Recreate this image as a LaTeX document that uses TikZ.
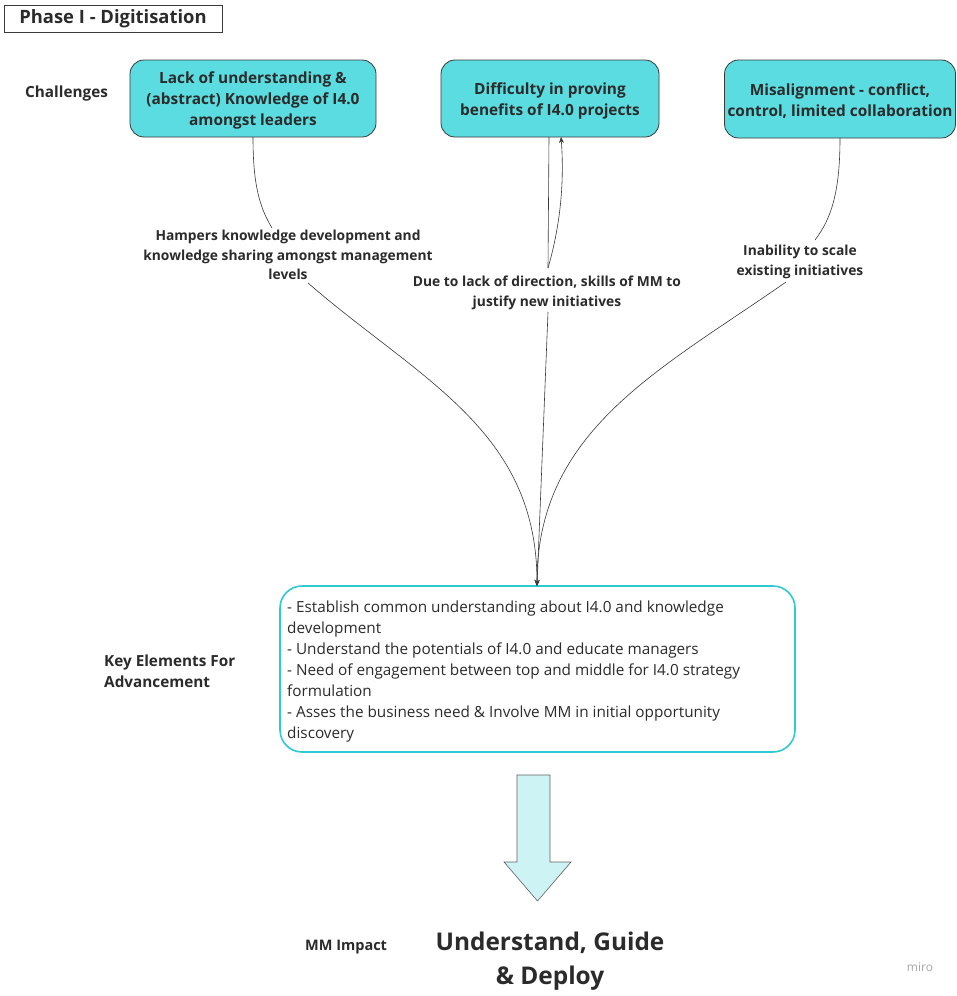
\documentclass[tikz,border=0pt]{standalone}
\usepackage{fontspec}
\setmainfont{Open Sans}
\usetikzlibrary{arrows.meta}
\definecolor{boxcyan}{HTML}{5BDCE0}
\definecolor{keycyan}{HTML}{2CCAD2}
\definecolor{arrcyan}{HTML}{CEF3F5}
\definecolor{linegray}{HTML}{3A3A3A}
\definecolor{txt}{HTML}{2B2B2B}
\begin{document}
\begin{tikzpicture}[x=1pt,y=-1pt,
  chal/.style={draw=linegray, line width=0.8pt, fill=boxcyan, rounded corners=14pt, align=center, font=\fontsize{15.4}{21}\selectfont\bfseries, text=txt},
  lbl/.style={align=center, font=\fontsize{13.8}{19.5}\selectfont\bfseries, text=txt, inner sep=1pt},
  side/.style={align=left, font=\fontsize{15.3}{21}\selectfont\bfseries, text=txt, inner sep=0pt, anchor=west},
  conn/.style={draw=linegray, line width=0.6pt},
  tip/.style={-{Stealth[length=6pt,width=5pt]}}
]
\useasboundingbox (0,0) rectangle (956,996);
\fill[white] (0,0) rectangle (956,996);

% title
\node[draw=linegray, line width=0.8pt, minimum width=218pt, minimum height=27pt, inner sep=0pt,
  font=\fontsize{18.4}{22}\selectfont\bfseries, text=txt] (title) at (113,18.5) {Phase I - Digitisation};

\node[side] (chl) at (25,94) {Challenges};

% challenge boxes
\node[chal, minimum width=246pt, minimum height=77pt] (b1) at (253,98.5) {};
\node[chal, minimum width=218pt, minimum height=77pt] (b2) at (550,98.5) {};
\node[chal, minimum width=231pt, minimum height=78pt] (b3) at (840,99) {};
\node[chal, draw=none, fill=none] (b1t) at (253,100.5) {Lack of understanding \&\\(abstract) Knowledge of I4.0\\amongst leaders};
\node[chal, draw=none, fill=none] (b2t) at (550,100.5) {Difficulty in proving\\benefits of I4.0 projects};
\node[chal, draw=none, fill=none] (b3t) at (840,101) {Misalignment - conflict,\\control, limited collaboration};

% labels
\node[lbl] (l1) at (288,255) {Hampers knowledge development and\\knowledge sharing amongst management\\levels};
\node[lbl] (l2) at (547,293) {Due to lack of direction, skills of MM to\\justify new initiatives};
\node[lbl] (l3) at (800,262) {Inability to scale\\existing initiatives};

% key elements box
\node[draw=keycyan, line width=1.6pt, rounded corners=22pt, minimum width=515pt, minimum height=166pt] (key) at (537.5,669) {};
\node[align=left, anchor=north west, inner sep=0pt, font=\fontsize{15.3}{21}\selectfont, text=txt] (keytxt) at (287,601)
 {- Establish common understanding about I4.0 and knowledge\\development\\- Understand the potentials of I4.0 and educate managers\\- Need of engagement between top and middle for I4.0 strategy\\formulation\\- Asses the business need \& Involve MM in initial opportunity\\discovery};
\node[side] (kel) at (104,671) {Key Elements For\\Advancement};

% connector points
\coordinate (b1s) at (253,137);
\coordinate (l1t) at (272,228);
\coordinate (l1b) at (308,283);
\coordinate (b2s) at (549,137);
\coordinate (b2a) at (561,137);
\coordinate (l2t) at (548,268);
\coordinate (l2b) at (548,312);
\coordinate (b3s) at (840,138);
\coordinate (l3t) at (815,240);
\coordinate (l3b) at (786,282);
\coordinate (kt) at (537,586);

\draw[conn] (b1s) .. controls (253,180) and (258,205) .. (l1t);
\draw[conn, tip] (l1b) .. controls (420,380) and (537,430) .. (kt);
\draw[conn] (b2s) -- (l2t);
\draw[conn, tip] (l2t) .. controls (562,220) and (564,175) .. (b2a);
\draw[conn, tip] (l2b) -- (kt);
\draw[conn] (b3s) .. controls (840,190) and (832,218) .. (l3t);
\draw[conn, tip] (l3b) .. controls (660,370) and (537,430) .. (kt);

% big arrow
\draw[draw=linegray!80, line width=0.6pt, fill=arrcyan] (517,775) -- (550,775) -- (550,862) -- (571,862) -- (537.5,901) -- (504,862) -- (517,862) -- cycle;

\node[side, font=\fontsize{14.5}{19}\selectfont\bfseries] (mmi) at (305,947) {MM Impact};
\node[align=center, font=\fontsize{24.4}{34}\selectfont\bfseries, text=txt] (imp) at (550,961) {Understand, Guide\\\& Deploy};
\node[font=\fontsize{12}{13}\selectfont, text=gray!70] (miro) at (920,967) {miro};
\end{tikzpicture}
\end{document}
